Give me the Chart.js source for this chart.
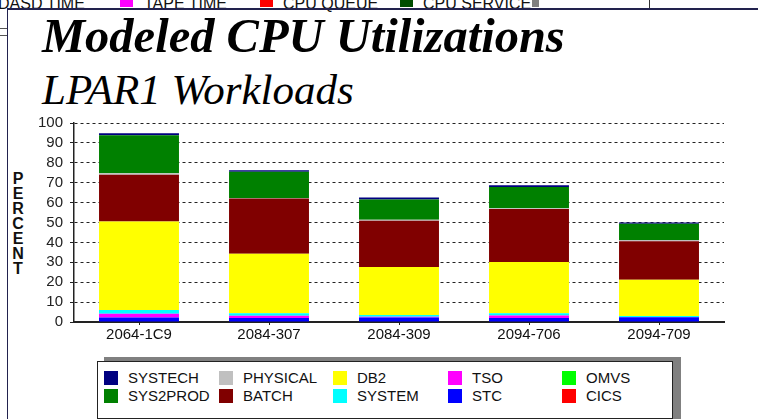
<!DOCTYPE html>
<html><head><meta charset="utf-8">
<script src="https://cdn.jsdelivr.net/npm/chart.js@4.4.0/dist/chart.umd.min.js"></script>
<style>
html,body{margin:0;padding:0;background:#fff;width:758px;height:419px;overflow:hidden;font-family:Arial,"Liberation Sans",sans-serif;}
.abs{position:absolute;}
.strip{position:absolute;top:-4px;font-size:16px;line-height:16px;color:#111;white-space:nowrap;}
.sw{position:absolute;top:0;width:13px;height:7px;}
#frame{position:absolute;left:7px;top:8px;width:800px;height:500px;border-left:1px solid #22224e;border-top:2px solid #22224e;}
#title{position:absolute;left:42px;top:12px;font:italic bold 48.5px "Liberation Serif","Times New Roman",serif;line-height:48px;color:#000;white-space:nowrap;}
#subtitle{position:absolute;left:42px;top:68px;font:italic 43px "Liberation Serif","Times New Roman",serif;line-height:43px;color:#000;white-space:nowrap;}
#ylab{position:absolute;left:10px;top:171px;width:16px;font:bold 16px Arial,"Liberation Sans",sans-serif;line-height:15px;text-align:center;color:#111;}
#c{position:absolute;left:0;top:0;}
#lshadow{position:absolute;left:104px;top:357px;width:577px;height:80px;background:#808080;}
#lbox{position:absolute;left:97px;top:361px;width:574px;height:56px;background:#fff;border:1px solid #222;}
.li{position:absolute;font-size:15px;line-height:16px;color:#111;white-space:nowrap;}
.ls{position:absolute;width:14px;height:14px;}
</style></head><body>
<div id="strip"></div>
<div class="abs" style="left:649px;top:0;width:1px;height:8px;background:#333"></div>
<div class="abs" style="left:0;top:28px;width:7px;height:1px;background:#555"></div>
<div class="abs" style="left:0;top:35px;width:7px;height:1px;background:#555"></div>
<div id="frame"></div>
<div id="title">Modeled CPU Utilizations</div>
<div id="subtitle">LPAR1 Workloads</div>
<div id="ylab"></div>
<canvas id="c" width="758" height="419"></canvas>
<div id="lshadow"></div>
<div id="lbox"></div>
<script>
// ---- data ----
const categories = ['2064-1C9','2084-307','2084-309','2094-706','2094-709'];
const cics     = [0.0, 0.0, 0.0, 0.0, 0.0];
const omvs     = [0.2, 0.3, 0.3, 0.3, 0.3];
const stc      = [2.0, 1.7, 1.9, 1.7, 2.1];
const tso      = [2.0, 1.2, 0.5, 1.3, 0.1];
const system   = [1.8, 1.2, 0.8, 1.1, 0.5];
const db2      = [44.5, 29.9, 24.2, 25.8, 18.2];
const batch    = [23.5, 27.7, 23.2, 26.6, 19.4];
const physical = [0.7, 0.3, 0.5, 0.3, 0.6];
const sys2prod = [19.1, 13.2, 10.1, 10.8, 8.2];
const systech  = [1.0, 0.8, 1.1, 0.8, 0.6];
const yMin = 0, yMax = 100, yStep = 10;
const yTitle = 'PERCENT';
const stripLabels = ['DASD TIME','TAPE TIME','CPU QUEUE','CPU SERVICE'];
const stripColors = ['#ff00ff','#ff0000','#004d00','#808080'];

// series, bottom of stack first
const series = [
  {label:'CICS', data:cics, color:'#ff0000'},
  {label:'OMVS', data:omvs, color:'#00ff00'},
  {label:'STC', data:stc, color:'#0000ff'},
  {label:'TSO', data:tso, color:'#ff00ff'},
  {label:'SYSTEM', data:system, color:'#00ffff'},
  {label:'DB2', data:db2, color:'#ffff00'},
  {label:'BATCH', data:batch, color:'#800000'},
  {label:'PHYSICAL', data:physical, color:'#c0c0c0'},
  {label:'SYS2PROD', data:sys2prod, color:'#008000'},
  {label:'SYSTECH', data:systech, color:'#000080'}
];

// background strip (partial view of another window)
(function(){
  const strip = document.getElementById('strip');
  const textX = [-2, 144, 283, 423];
  const swX = [null, 120, 260, 400];
  stripLabels.forEach((t,i)=>{
    const s=document.createElement('div');s.className='strip';s.style.left=textX[i]+'px';s.textContent=t;strip.appendChild(s);
    if(swX[i]!==null){const q=document.createElement('div');q.className='sw';q.style.left=swX[i]+'px';q.style.background=stripColors[i-1];strip.appendChild(q);}
  });
  const g=document.createElement('div');g.className='sw';g.style.left='532px';g.style.width='7px';g.style.background=stripColors[3];strip.appendChild(g);
})();

document.getElementById('ylab').innerHTML = yTitle.split('').join('<br>');

// legend (column-wise: top of stack first)
(function(){
  const box=document.getElementById('lbox');
  const order=[...series].reverse();
  const colX=[104,219,333,448,562];
  const rowY=[371,389];
  order.forEach((s,i)=>{
    const col=Math.floor(i/2), row=i%2;
    const sw=document.createElement('div');sw.className='ls';
    sw.style.left=(colX[col]-98)+'px';sw.style.top=(rowY[row]-362)+'px';sw.style.background=s.color;box.appendChild(sw);
    const t=document.createElement('div');t.className='li';
    t.style.left=(colX[col]+24-98)+'px';t.style.top=(rowY[row]-362-1)+'px';t.textContent=s.label;box.appendChild(t);
  });
})();

new Chart(document.getElementById('c'), {
  type:'bar',
  data:{
    labels:categories,
    datasets:series.map(s=>({label:s.label,data:s.data,backgroundColor:s.color,borderWidth:0,
      barPercentage:0.615,categoryPercentage:1.0}))
  },
  options:{
    responsive:false,animation:false,devicePixelRatio:1,
    layout:{padding:{left:0,right:34,top:123,bottom:0}},
    plugins:{legend:{display:false},tooltip:{enabled:false},title:{display:false}},
    scales:{
      x:{stacked:true,
        afterFit:s=>{s.height=97;},
        grid:{display:true,drawOnChartArea:false,drawTicks:true,tickLength:3,offset:false,tickColor:'#222'},
        border:{display:true,color:'#222',width:2},
        ticks:{color:'#111',font:{family:'Arial, "Liberation Sans", sans-serif',size:15},padding:1,maxRotation:0}
      },
      y:{stacked:true,min:yMin,max:yMax,
        afterFit:s=>{s.width=74;},
        grid:{color:'#222',lineWidth:1,tickLength:4,tickColor:'#222',tickBorderDash:[],drawTicks:true},
        border:{display:true,color:'#222',width:1.5,dash:[3,3]},
        ticks:{stepSize:yStep,autoSkip:false,maxTicksLimit:20,color:'#222',font:{family:'Arial, "Liberation Sans", sans-serif',size:15},padding:7}
      }
    }
  }
});
</script>
</body></html>
